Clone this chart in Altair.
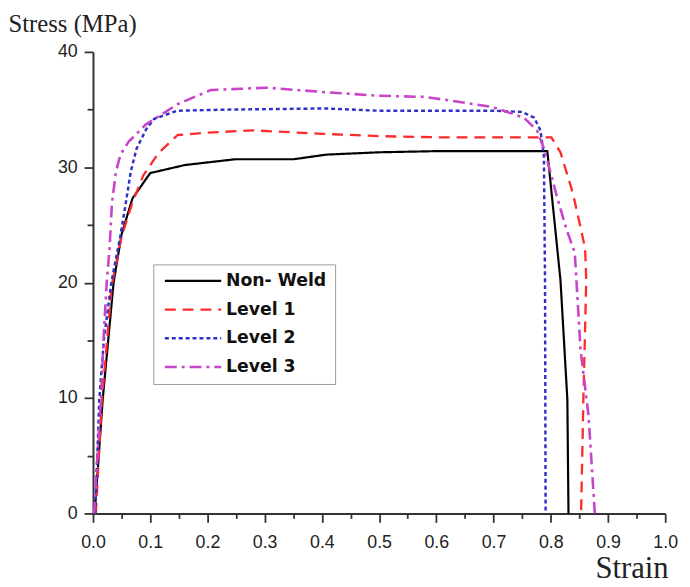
import altair as alt
import pandas as pd

series_names = ["Non- Weld", "Level 1", "Level 2", "Level 3"]
series_colors = ["#000000", "#ff2a2a", "#3030c8", "#c844c8"]
series_dashes = [[1, 0], [11, 7], [4, 3], [12, 5, 3, 5]]
series_widths = [2.2, 2.6, 3.0, 2.6]

nonweld_strain = [0.003, 0.017, 0.036, 0.050, 0.069, 0.100, 0.161, 0.249, 0.351, 0.408, 0.5, 0.6, 0.7, 0.794, 0.817, 0.829, 0.831]
nonweld_stress = [0.0, 9.9, 20.0, 24.2, 27.3, 29.5, 30.2, 30.7, 30.7, 31.1, 31.3, 31.4, 31.4, 31.4, 20.2, 9.9, 0.0]

level1_strain = [0.005, 0.015, 0.033, 0.050, 0.070, 0.088, 0.114, 0.148, 0.200, 0.280, 0.400, 0.500, 0.600, 0.700, 0.801, 0.817, 0.839, 0.860, 0.862, 0.857, 0.853]
level1_stress = [0.0, 9.5, 19.8, 24.0, 27.1, 29.3, 31.2, 32.8, 33.0, 33.2, 32.9, 32.7, 32.6, 32.6, 32.6, 31.3, 27.7, 23.0, 20.2, 9.9, 0.0]

level2_strain = [0.004, 0.011, 0.019, 0.032, 0.048, 0.057, 0.066, 0.076, 0.093, 0.107, 0.147, 0.234, 0.407, 0.500, 0.600, 0.700, 0.750, 0.771, 0.782, 0.788, 0.790, 0.791]
level2_stress = [0.0, 9.9, 15.0, 20.0, 24.1, 26.8, 29.6, 31.6, 33.3, 34.2, 34.9, 35.0, 35.1, 34.9, 34.9, 34.9, 34.8, 34.3, 33.2, 31.0, 20.0, 0.0]

level3_strain = [0.002, 0.005, 0.014, 0.019, 0.024, 0.029, 0.033, 0.040, 0.048, 0.062, 0.092, 0.149, 0.206, 0.304, 0.408, 0.500, 0.580, 0.650, 0.700, 0.753, 0.776, 0.789, 0.810, 0.827, 0.842, 0.852, 0.866, 0.877]
level3_stress = [0.0, 2.8, 9.9, 15.7, 20.0, 23.0, 26.8, 29.6, 31.1, 32.2, 33.7, 35.5, 36.7, 36.9, 36.5, 36.2, 36.1, 35.6, 35.2, 34.3, 33.2, 31.5, 27.6, 24.7, 22.6, 14.2, 8.5, 0.0]

x_ticks = [round(i * 0.05, 2) for i in range(21)]
y_ticks = [i * 5 for i in range(9)]

rows = []
for name, xs, ys in [
    (series_names[0], nonweld_strain, nonweld_stress),
    (series_names[1], level1_strain, level1_stress),
    (series_names[2], level2_strain, level2_stress),
    (series_names[3], level3_strain, level3_stress),
]:
    for i, (sx, sy) in enumerate(zip(xs, ys)):
        rows.append({"series": name, "strain": sx, "stress": sy, "idx": i})
df = pd.DataFrame(rows)

x_major = "abs(datum.value*10 - round(datum.value*10)) < 0.001"
y_major = "datum.value % 10 == 0"

chart = alt.Chart(df).mark_line(strokeJoin="round").encode(
    x=alt.X(
        "strain:Q",
        scale=alt.Scale(domain=[0, 1], nice=False, zero=False),
        axis=alt.Axis(
            values=x_ticks,
            title="Strain",
            labelExpr=f"{x_major} ? format(datum.value, '.1f') : ''",
            labelOverlap=False,
            labelFlush=False,
            labelFont="Liberation Sans",
            labelFontSize=18,
            labelColor="#222222",
            labelPadding=11,
            tickSize={"condition": {"test": x_major, "value": 9}, "value": 5},
            tickColor="#333333",
            tickWidth=1.8,
            domainColor="#333333",
            domainWidth=2,
            grid=False,
            titleFont="Liberation Serif",
            titleFontSize=31,
            titleFontWeight="normal",
            titleColor="#222222",
            titleAlign="right",
            titleBaseline="alphabetic",
            titleX=582,
            titleY=65,
        ),
    ),
    y=alt.Y(
        "stress:Q",
        scale=alt.Scale(domain=[0, 40], nice=False),
        axis=alt.Axis(
            values=y_ticks,
            title="Stress (MPa)",
            labelExpr=f"{y_major} ? datum.label : ''",
            labelOverlap=False,
            labelFlush=False,
            labelFont="Liberation Sans",
            labelFontSize=18,
            labelColor="#222222",
            labelPadding=7,
            tickSize={"condition": {"test": y_major, "value": 9}, "value": 6},
            tickColor="#333333",
            tickWidth=1.8,
            domainColor="#333333",
            domainWidth=2,
            grid=False,
            titleFont="Liberation Serif",
            titleFontSize=25,
            titleFontWeight="normal",
            titleColor="#222222",
            titleAngle=0,
            titleAlign="left",
            titleBaseline="alphabetic",
            titleX=-86,
            titleY=-21,
        ),
    ),
    color=alt.Color(
        "series:N",
        scale=alt.Scale(domain=series_names, range=series_colors),
        legend=alt.Legend(
            title=None,
            orient="none",
            legendX=61,
            legendY=215,
            symbolType="M-1,0H10.4",
            symbolSize=100,
            symbolStrokeWidth=2.6,
            labelFont="DejaVu Sans",
            labelFontWeight="bold",
            labelFontSize=17.5,
            labelColor="#111111",
            labelOffset=48,
            padding=8,
            rowPadding=10,
            strokeColor="#999999",
            fillColor="white",
        ),
    ),
    strokeDash=alt.StrokeDash(
        "series:N",
        scale=alt.Scale(domain=series_names, range=series_dashes),
        legend=None,
    ),
    strokeWidth=alt.StrokeWidth(
        "series:N",
        scale=alt.Scale(domain=series_names, range=series_widths),
        legend=None,
    ),
    order="idx:Q",
).properties(
    width=579,
    height=467,
    autosize=alt.AutoSizeParams(type="none"),
    padding={"left": 86, "top": 41, "right": 17, "bottom": 71},
).configure_view(stroke=None)

chart.save("out.html", embed_options={"renderer": "svg", "actions": False})
